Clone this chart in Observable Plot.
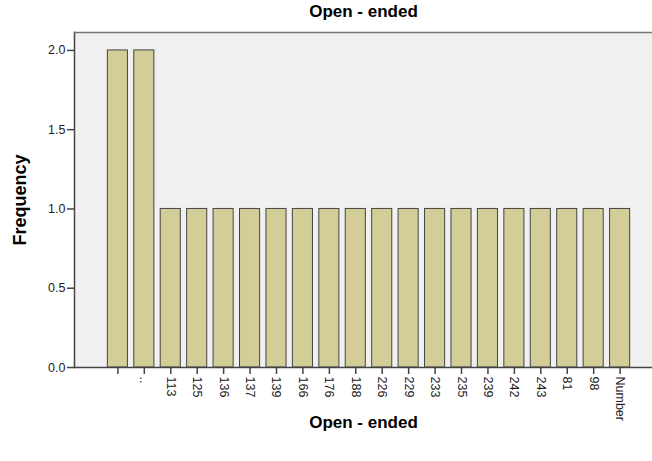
<!DOCTYPE html>
<html>
<head>
<meta charset="utf-8">
<script src="https://cdn.jsdelivr.net/npm/d3@7"></script>
<script src="https://cdn.jsdelivr.net/npm/@observablehq/plot@0.6"></script>
<style>
  body { margin: 0; background: #fff; }
  #chart svg { font-family: "Liberation Sans", Arial, sans-serif; }
</style>
</head>
<body>
<div id="chart"></div>
<script>
const categories = [" ", "..", "113", "125", "136", "137", "139", "166", "176", "188", "226", "229", "233", "235", "239", "242", "243", "81", "98", "Number"];
const frequencies = [2, 2, 1, 1, 1, 1, 1, 1, 1, 1, 1, 1, 1, 1, 1, 1, 1, 1, 1, 1];
const yTicks = [0, 0.5, 1.0, 1.5, 2.0];
const chartTitle = "Open - ended";
const xLabel = "Open - ended";
const yLabel = "Frequency";

const data = categories.map((c, i) => ({category: c, frequency: frequencies[i]}));

const plot = Plot.plot({
  width: 652,
  height: 461,
  marginLeft: 74,
  marginRight: 0,
  marginTop: 32,
  marginBottom: 94,
  style: {fontFamily: "Liberation Sans, Arial, sans-serif", fontSize: "12px", color: "#222", background: "#fff"},
  x: {
    domain: categories,
    padding: 0.24,
    round: false,
    insetLeft: 27,
    insetRight: 16,
    label: null
  },
  y: {
    domain: [0, 2.113],
    label: null
  },
  marks: [
    Plot.frame({fill: "#f0f0f0", stroke: "none"}),
    Plot.barY(data, {x: "category", y: "frequency", fill: "#d3ce98", stroke: "#444", strokeWidth: 1}),
    Plot.frame({anchor: "left", stroke: "#444", strokeWidth: 1.5}),
    Plot.frame({anchor: "top", stroke: "#777", strokeWidth: 1.5}),
    Plot.frame({anchor: "bottom", stroke: "#444", strokeWidth: 1.5}),
    Plot.axisY({ticks: yTicks, tickFormat: d3.format(".1f"), tickSize: 7, tickPadding: 2, label: null, fontSize: 12.5, stroke: "#444", strokeWidth: 1.5}),
    Plot.axisX({tickSize: 7, tickRotate: 90, tickPadding: 2, label: null, fontSize: 12.5, textAnchor: "start", stroke: "#444", strokeWidth: 1.5}),
    Plot.text([chartTitle], {frameAnchor: "top", dy: -28, fontSize: 17, fontWeight: "bold", fill: "#000"}),
    Plot.text([xLabel], {frameAnchor: "bottom", dy: 60, fontSize: 17, fontWeight: "bold", fill: "#000"}),
    Plot.text([yLabel], {frameAnchor: "left", textAnchor: "middle", dx: -54, dy: 0, rotate: -90, fontSize: 18, fontWeight: "bold", fill: "#000"})
  ]
});
document.getElementById("chart").appendChild(plot);
</script>
</body>
</html>
